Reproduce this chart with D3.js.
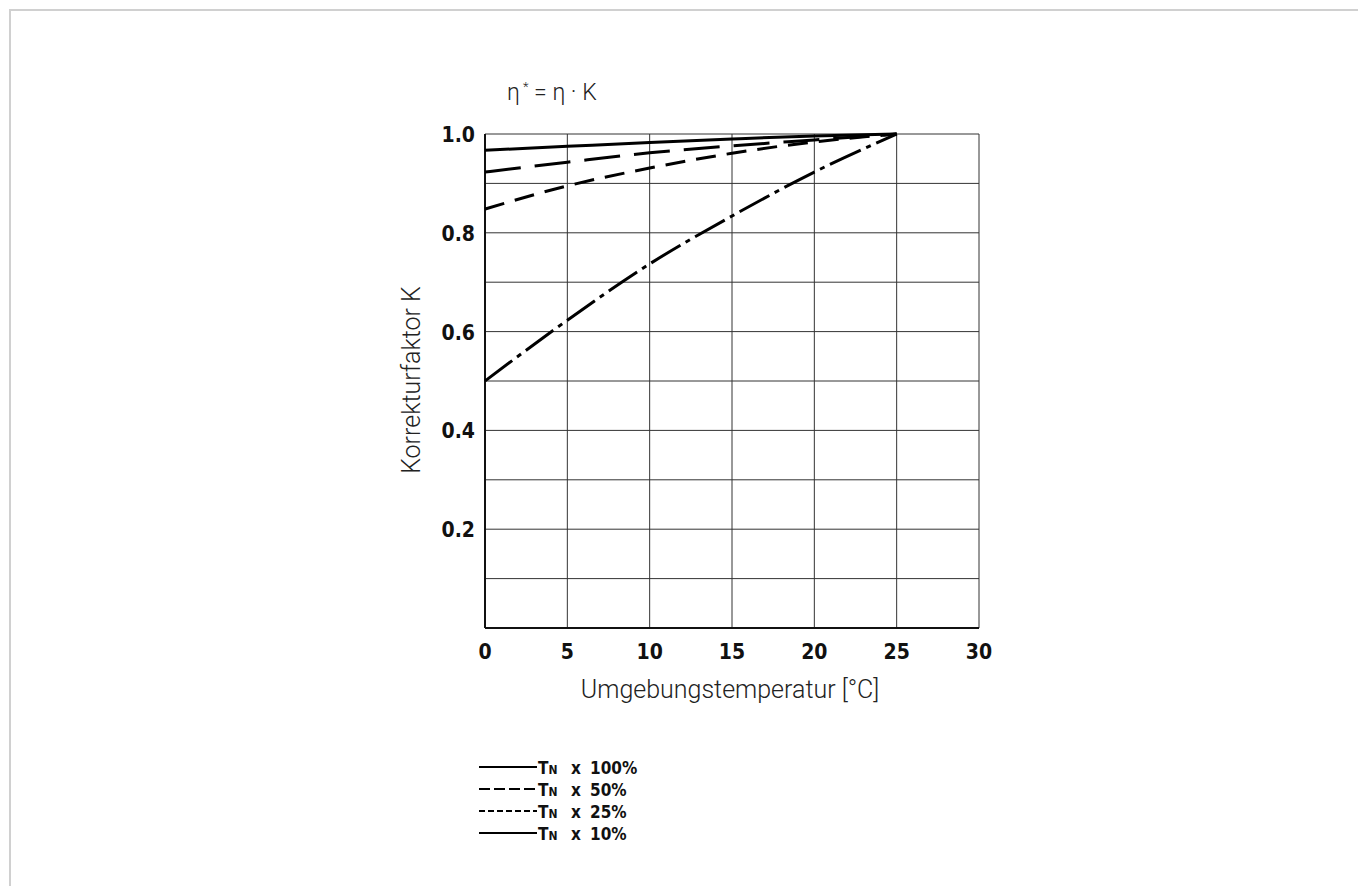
<!DOCTYPE html>
<html>
<head>
<meta charset="utf-8">
<script src="https://cdn.jsdelivr.net/npm/d3@7"></script>
<style>
  html, body { margin: 0; padding: 0; background: #fff; }
  #frame { position: absolute; left: 9px; top: 9px; right: -2px; bottom: -2px; border-left: 2px solid #d0d0d0; border-top: 2px solid #d0d0d0; }
  .tick-lbl { font-family: "Liberation Sans Narrow", "DejaVu Sans", sans-serif; font-stretch: condensed; font-weight: bold; font-size: 21px; fill: #111; }
  .thin { font-family: Roboto, "Open Sans", sans-serif; font-weight: 300; fill: #222; }
</style>
</head>
<body>
<div id="frame"></div>
<svg id="chart" width="1358" height="886" style="position:absolute;left:0;top:0"></svg>
<script>
// data
var temps = [0, 5, 10, 15, 20, 25];
var k100 = [0.967, 0.975, 0.983, 0.990, 0.996, 1.0];
var k50  = [0.923, 0.943, 0.962, 0.976, 0.988, 1.0];
var k25  = [0.848, 0.895, 0.931, 0.961, 0.984, 1.0];
var k10  = [0.500, 0.623, 0.737, 0.834, 0.923, 1.0];
var seriesNames = ["100%", "50%", "25%", "10%"];
var xTicks = [0, 5, 10, 15, 20, 25, 30];
var yTickLabels = [0.2, 0.4, 0.6, 0.8, 1.0];

var svg = d3.select("#chart");
var x = d3.scaleLinear().domain([0, 30]).range([485, 979]);
var y = d3.scaleLinear().domain([0, 1]).range([628, 134]);

// grid
var grid = svg.append("g");
grid.selectAll(".vg").data(xTicks).enter().append("line")
    .attr("x1", function (d) { return x(d); }).attr("x2", function (d) { return x(d); })
    .attr("y1", y(0)).attr("y2", y(1))
    .attr("stroke", "#333").attr("stroke-width", 1);
grid.selectAll(".hg").data(d3.range(0, 11).map(function (i) { return i / 10; })).enter().append("line")
    .attr("x1", x(0)).attr("x2", x(30))
    .attr("y1", function (d) { return y(d); }).attr("y2", function (d) { return y(d); })
    .attr("stroke", "#333").attr("stroke-width", 1);
// heavier frame on left / bottom
svg.append("line").attr("x1", x(0)).attr("x2", x(0)).attr("y1", y(0)).attr("y2", y(1))
    .attr("stroke", "#111").attr("stroke-width", 2);
svg.append("line").attr("x1", x(0)).attr("x2", x(30)).attr("y1", y(0)).attr("y2", y(0))
    .attr("stroke", "#111").attr("stroke-width", 2);

// tick labels
svg.selectAll(".xl").data(xTicks).enter().append("text")
    .attr("class", "tick-lbl")
    .attr("x", function (d) { return x(d); }).attr("y", 659)
    .attr("text-anchor", "middle")
    .text(function (d) { return d; });
svg.selectAll(".yl").data(yTickLabels).enter().append("text")
    .attr("class", "tick-lbl")
    .attr("x", 475).attr("y", function (d) { return y(d) + 8; })
    .attr("text-anchor", "end")
    .text(function (d) { return d.toFixed(1); });

// axis titles
svg.append("text").attr("class", "thin")
    .attr("x", 730).attr("y", 698).attr("text-anchor", "middle")
    .style("font-size", "25px").text("Umgebungstemperatur [°C]");
svg.append("text").attr("class", "thin")
    .attr("transform", "translate(420,380) rotate(-90)").attr("text-anchor", "middle")
    .style("font-size", "25px").text("Korrekturfaktor K");

// formula
var f = svg.append("text").attr("class", "thin").attr("x", 507).attr("y", 100).style("font-size", "23px");
f.append("tspan").text("η");
f.append("tspan").attr("dy", -9).style("font-size", "13px").text(" *");
f.append("tspan").attr("dy", 9).text(" = η · K");

// curves
var dashes = [null, "36,14", "20,11", "34,6,5,6"];
var series = [k100, k50, k25, k10];
var line = d3.line()
    .x(function (d, i) { return x(temps[i]); })
    .y(function (d) { return y(d); })
    .curve(d3.curveMonotoneX);
svg.selectAll(".curve").data(series).enter().append("path")
    .attr("d", function (d) { return line(d); })
    .attr("fill", "none").attr("stroke", "#000").attr("stroke-width", 3)
    .attr("stroke-dasharray", function (d, i) { return dashes[i]; });

// legend
var legDash = [null, "11,4", "6,3", null];
var leg = svg.selectAll(".leg").data(seriesNames).enter().append("g")
    .attr("transform", function (d, i) { return "translate(0," + (767 + i * 22) + ")"; });
leg.append("line").attr("x1", 479).attr("x2", 537).attr("y1", 0).attr("y2", 0)
    .attr("stroke", "#000").attr("stroke-width", 2.2)
    .attr("stroke-dasharray", function (d, i) { return legDash[i]; });
var lt = leg.append("text").attr("class", "tick-lbl").attr("y", 7).style("font-size", "17px");
lt.append("tspan").attr("x", 538).text("T");
lt.append("tspan").style("font-size", "12px").text("N");
lt.append("tspan").attr("x", 571).text("x");
lt.append("tspan").attr("x", 590).text(function (d) { return d; });
</script>
</body>
</html>
